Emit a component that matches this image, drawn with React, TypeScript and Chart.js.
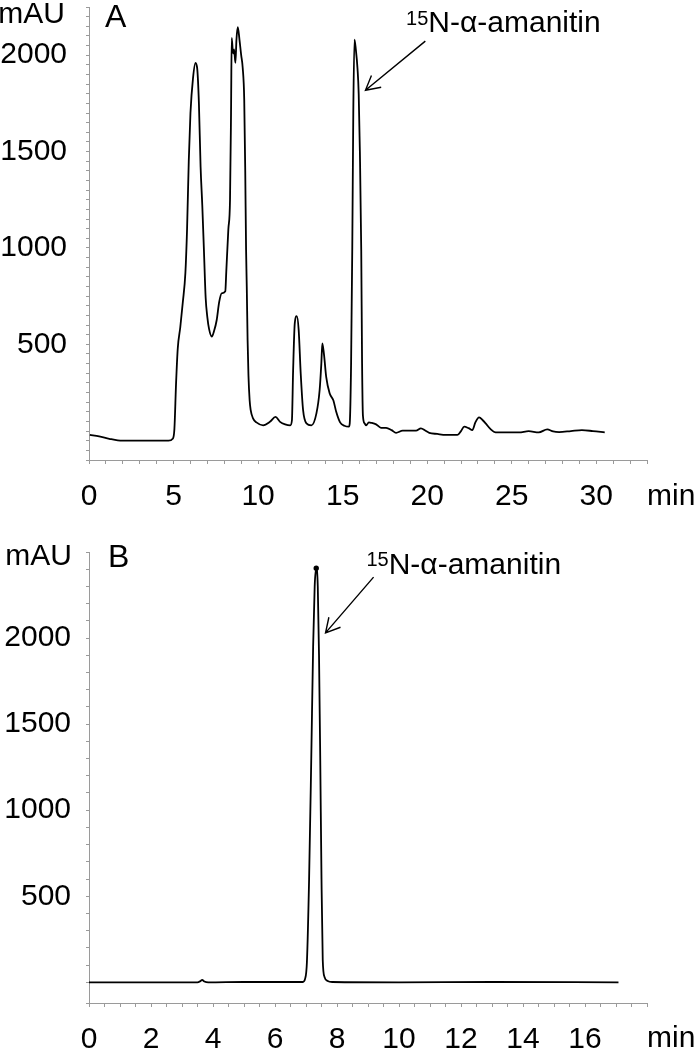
import React, { useEffect, useRef } from 'react';
import { Chart, registerables } from 'chart.js';

Chart.register(...registerables);

const FONT = '"Liberation Sans", Arial, Helvetica, sans-serif';

// ---------- Panel A data (time in min, absorbance in mAU) ----------
const timeA = [
  0.05, 0.6, 1.2, 1.7, 2.5, 4.7, 4.95, 5.05, 5.15, 5.25, 5.4, 5.55, 5.7, 5.8, 5.9, 6.0, 6.15, 6.3, 6.4, 6.5,
  6.6, 6.7, 6.8, 6.9, 7.0, 7.1, 7.26, 7.4, 7.55, 7.7, 7.85, 8.06, 8.12, 8.24, 8.34, 8.4, 8.44, 8.52, 8.58, 8.66,
  8.72, 8.8, 8.9, 9.0, 9.09, 9.18, 9.24, 9.29, 9.33, 9.38, 9.43, 9.5, 9.56, 9.7, 9.9, 10.3, 10.7, 11.03, 11.3, 11.6,
  11.9, 12.0, 12.07, 12.17, 12.29, 12.4, 12.52, 12.66, 12.86, 13.15, 13.45, 13.64, 13.74, 13.8, 13.9, 14.03, 14.23, 14.45, 14.62, 14.85,
  15.1, 15.37, 15.42, 15.5, 15.57, 15.63, 15.7, 15.78, 15.88, 15.95, 16.02, 16.1, 16.15, 16.2, 16.3, 16.39, 16.55, 16.69, 16.98, 17.27,
  17.57, 17.9, 18.16, 18.55, 19.34, 19.63, 19.9, 20.12, 20.6, 21.1, 21.79, 22.0, 22.19, 22.45, 22.67, 22.85, 23.07, 23.3, 23.46, 23.75,
  24.05, 25.43, 26.0, 26.6, 27.1, 27.45, 27.8, 28.5, 29.15, 29.8, 30.5,
];
const absA = [
  30, 22, 10, 2, 0, 0, 10, 60, 300, 480, 590, 720, 870, 1100, 1450, 1700, 1880, 1960, 1930, 1750,
  1420, 1220, 980, 740, 640, 580, 540, 570, 625, 720, 765, 775, 880, 1095, 1250, 1700, 2090, 2010, 2030, 1960,
  2080, 2145, 2080, 2000, 1935, 1770, 1400, 990, 800, 520, 340, 210, 160, 116, 95, 80, 98, 124, 98, 85,
  80, 105, 360, 610, 646, 575, 350, 160, 90, 80, 142, 263, 400, 505, 445, 330, 246, 210, 150, 95,
  78, 73, 90, 400, 1000, 1700, 2080, 2030, 1930, 1800, 1500, 990, 400, 130, 90, 80, 95, 93, 85, 67,
  67, 55, 41, 52, 52, 64, 52, 41, 35, 30, 30, 50, 73, 65, 55, 95, 121, 105, 90, 60,
  43, 43, 50, 43, 59, 48, 45, 50, 55, 50, 43,
];

// ---------- Panel B data ----------
const timeB = [
  0, 3.5, 3.6, 3.65, 3.72, 3.85, 5.0, 6.9, 6.97, 7.03, 7.1, 7.17, 7.23, 7.28, 7.33, 7.38, 7.42, 7.46, 7.5, 7.54,
  7.6, 7.7, 7.85, 10, 13, 17.08,
];
const absB = [
  0, 0, 8, 14, 5, 0, 2, 2, 20, 120, 600, 1300, 1950, 2300, 2406, 2300, 1900, 1290, 600, 130,
  30, 8, 2, 0, 2, 0,
];

// ---------- Axis setup ----------
const yLabelValues = [500, 1000, 1500, 2000];
const xLabelsA = [0, 5, 10, 15, 20, 25, 30];
const xLabelsB = [0, 2, 4, 6, 8, 10, 12, 14, 16];
const compoundSup = '15';
const compoundName = 'N-α-amanitin';

type Panel = {
  time: number[];
  abs: number[];
  letter: string;
  xMax: number;
  xStep: number;
  xLabels: number[];
  yMin: number;
  yMax: number;
  yStep: number;
  label: [number, number];
  arrowFrom: [number, number];
  arrowTo: [number, number];
  peakMarker: boolean;
  padTop: number;
  xAxisHeight: number;
  yPad: number;
  xTitleDy: number;
  yTitleDx: number;
  yTitleDy: number;
  letterDx: number;
  letterDy: number;
};

const panelA: Panel = {
  time: timeA, abs: absA, letter: 'A',
  xMax: 33, xStep: 1, xLabels: xLabelsA,
  yMin: -100, yMax: 2250, yStep: 50,
  label: [18.75, 2118], arrowFrom: [19.89, 2073], arrowTo: [16.35, 1818],
  peakMarker: false,
  padTop: 7, xAxisHeight: 65, yPad: 19,
  xTitleDy: 36.5, yTitleDx: -24, yTitleDy: 8, letterDx: 16, letterDy: 11,
};

const panelB: Panel = {
  time: timeB, abs: absB, letter: 'B',
  xMax: 18, xStep: 0.5, xLabels: xLabelsB,
  yMin: -120, yMax: 2500, yStep: 100,
  label: [8.95, 2375], arrowFrom: [9.18, 2354], arrowTo: [7.63, 2030],
  peakMarker: true,
  padTop: 27, xAxisHeight: 47, yPad: 15,
  xTitleDy: 35.5, yTitleDx: -17, yTitleDy: 5, letterDx: 19, letterDy: 6,
};

function makeAnnot(p: Panel) {
  return {
    id: 'annot' + p.letter,
    afterDraw(chart: any) {
      const { ctx, chartArea, scales } = chart;
      const xs = scales.x;
      const ys = scales.y;
      ctx.save();
      ctx.fillStyle = '#000';
      ctx.strokeStyle = '#000';
      // y title
      ctx.font = `30px ${FONT}`;
      ctx.textBaseline = 'middle';
      ctx.textAlign = 'right';
      ctx.fillText('mAU', chartArea.left + p.yTitleDx, chartArea.top + p.yTitleDy);
      // panel letter
      ctx.font = `32px ${FONT}`;
      ctx.textAlign = 'left';
      ctx.fillText(p.letter, chartArea.left + p.letterDx, chartArea.top + p.letterDy);
      // x title
      ctx.font = `30px ${FONT}`;
      ctx.fillText('min', chartArea.right, chartArea.bottom + p.xTitleDy);
      // compound label
      const tx = xs.getPixelForValue(p.label[0]);
      const ty = ys.getPixelForValue(p.label[1]);
      ctx.textBaseline = 'alphabetic';
      ctx.font = `20px ${FONT}`;
      ctx.fillText(compoundSup, tx, ty - 7.5);
      const w = ctx.measureText(compoundSup).width;
      ctx.font = `30px ${FONT}`;
      ctx.fillText(compoundName, tx + w, ty);
      // arrow
      const x1 = xs.getPixelForValue(p.arrowFrom[0]);
      const y1 = ys.getPixelForValue(p.arrowFrom[1]);
      const x2 = xs.getPixelForValue(p.arrowTo[0]);
      const y2 = ys.getPixelForValue(p.arrowTo[1]);
      ctx.lineWidth = 1.4;
      ctx.beginPath();
      ctx.moveTo(x1, y1);
      ctx.lineTo(x2, y2);
      const ang = Math.atan2(y1 - y2, x1 - x2);
      const len = 16;
      const spread = 0.5;
      ctx.moveTo(x2 + len * Math.cos(ang + spread), y2 + len * Math.sin(ang + spread));
      ctx.lineTo(x2, y2);
      ctx.lineTo(x2 + len * Math.cos(ang - spread), y2 + len * Math.sin(ang - spread));
      ctx.stroke();
      ctx.restore();
    },
  };
}

function buildConfig(p: Panel): any {
  const data = p.time.map((t, i) => ({ x: t, y: p.abs[i] }));
  let peakIdx = 0;
  p.abs.forEach((v, i) => { if (v > p.abs[peakIdx]) peakIdx = i; });
  const axisColor = '#9a9a9a';
  return {
    type: 'line',
    data: {
      datasets: [{
        data,
        borderColor: '#000',
        backgroundColor: '#000',
        borderWidth: 1.8,
        cubicInterpolationMode: 'monotone',
        pointRadius: (c: any) => (p.peakMarker && c.dataIndex === peakIdx ? 1.8 : 0),
        pointHoverRadius: 0,
        fill: false,
      }],
    },
    options: {
      animation: false,
      responsive: false,
      devicePixelRatio: 1,
      layout: { padding: { top: p.padTop, right: 47, left: 0, bottom: 0 } },
      plugins: { legend: { display: false }, tooltip: { enabled: false } },
      scales: {
        x: {
          type: 'linear',
          min: 0,
          max: p.xMax,
          afterFit: (s: any) => {
            s.height = p.xAxisHeight;
            s.paddingLeft = 0;
            s.paddingRight = 0;
          },
          border: { display: true, color: axisColor, width: 1 },
          grid: { drawOnChartArea: false, color: axisColor, tickLength: 4 },
          ticks: {
            stepSize: p.xStep,
            autoSkip: false,
            maxRotation: 0,
            padding: 15,
            color: '#000',
            font: { family: FONT, size: 30 },
            callback: (v: number) => (p.xLabels.includes(v) ? String(v) : ''),
          },
        },
        y: {
          type: 'linear',
          min: p.yMin,
          max: p.yMax,
          afterFit: (s: any) => {
            s.width = 89;
            s.paddingTop = 0;
            s.paddingBottom = 0;
          },
          border: { display: true, color: axisColor, width: 1 },
          grid: { drawOnChartArea: false, color: axisColor, tickLength: 3 },
          ticks: {
            stepSize: p.yStep,
            autoSkip: false,
            padding: p.yPad,
            color: '#000',
            font: { family: FONT, size: 30 },
            callback: (v: number) => (yLabelValues.includes(v) ? String(v) : ''),
          },
        },
      },
    },
    plugins: [makeAnnot(p)],
  };
}

function ChartPanel({ panel, top }: { panel: Panel; top: number }) {
  const ref = useRef<HTMLCanvasElement>(null);
  useEffect(() => {
    const chart = new Chart(ref.current as HTMLCanvasElement, buildConfig(panel));
    return () => chart.destroy();
  }, [panel]);
  return (
    <canvas
      ref={ref}
      width={694}
      height={525}
      style={{ position: 'absolute', left: 0, top, width: 694, height: 525, display: 'block' }}
    />
  );
}

export default function App() {
  return (
    <div style={{ position: 'absolute', left: 0, top: 0, width: 694, height: 1050, background: '#fff' }}>
      <ChartPanel panel={panelA} top={0} />
      <ChartPanel panel={panelB} top={525} />
    </div>
  );
}
